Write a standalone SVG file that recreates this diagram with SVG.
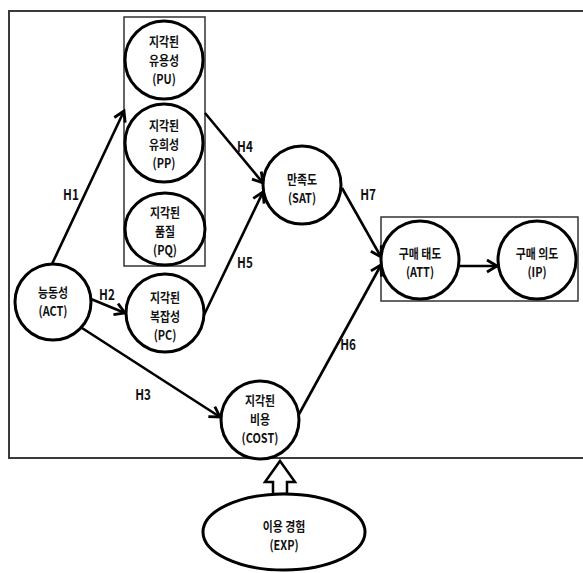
<svg xmlns="http://www.w3.org/2000/svg" width="583" height="573" viewBox="0 0 583 573">
  <style>
    .frame { fill: none; stroke: #3a3a3a; stroke-width: 2; }
    .box { fill: none; stroke: #333; stroke-width: 1.5; }
    .node { fill: #fff; stroke: #000; stroke-width: 3; }
    .edge { fill: none; stroke: #000; stroke-width: 2.6; marker-end: url(#head); }
    .lbl { font-family: "Noto Sans CJK KR", "Liberation Sans", sans-serif; font-weight: bold; font-size: 15px; fill: #111; text-anchor: middle; }
    .nl { font-family: "Noto Sans CJK KR", "Liberation Sans", sans-serif; font-weight: bold; font-size: 13px; fill: #111; text-anchor: middle; }
  </style>
  <defs>
    <marker id="head" markerUnits="userSpaceOnUse" markerWidth="14" markerHeight="14" refX="11" refY="6" orient="auto" overflow="visible">
      <path d="M1,0 L11,6 L1,12" fill="none" stroke="#000" stroke-width="2.8" stroke-linejoin="miter"/>
    </marker>
  </defs>

  <rect width="583" height="573" fill="#fff"/>

  <!-- outer model frame and construct groupings -->
  <rect class="frame" x="9" y="11" width="600" height="447"/>
  <rect class="box" x="124" y="17" width="81" height="249"/>
  <rect class="box" x="381" y="217" width="197" height="84"/>

  <!-- connectors -->
  <g id="connectors">
    <line class="edge" x1="52" y1="264" x2="124" y2="111"/>
    <line class="edge" x1="91" y1="299" x2="125" y2="313"/>
    <line class="edge" x1="82" y1="328" x2="220" y2="417"/>
    <line class="edge" x1="205" y1="113" x2="263" y2="183"/>
    <line class="edge" x1="204" y1="315" x2="263" y2="192"/>
    <line class="edge" x1="298" y1="416" x2="381" y2="265"/>
    <line class="edge" x1="342" y1="188" x2="381" y2="257"/>
    <line class="edge" x1="460" y1="266" x2="497" y2="266"/>
    <!-- moderating effect arrow -->
    <polygon points="280,461 295,482 287,482 287,494 273,494 273,482 265,482" fill="#fff" stroke="#000" stroke-width="2.5" stroke-linejoin="miter"/>
  </g>

  <!-- path labels -->
  <g id="path-labels" class="lbl">
    <text transform="matrix(0.78 0 0 1 15.6 0)" x="71" y="200">H1</text>
    <text transform="matrix(0.78 0 0 1 23.5 0)" x="107" y="300">H2</text>
    <text transform="matrix(0.78 0 0 1 31.5 0)" x="143" y="400">H3</text>
    <text transform="matrix(0.78 0 0 1 53.9 0)" x="245" y="152">H4</text>
    <text transform="matrix(0.78 0 0 1 53.9 0)" x="245" y="268">H5</text>
    <text transform="matrix(0.78 0 0 1 76.6 0)" x="348" y="350">H6</text>
    <text transform="matrix(0.78 0 0 1 81 0)" x="368" y="200">H7</text>
  </g>

  <g id="PU">
    <circle class="node" cx="164" cy="60" r="39"/>
    <g class="nl" transform="matrix(0.84 0 0 1 26.24 0)">
      <text x="164" y="46">지각된</text>
      <text x="164" y="65">유용성</text>
      <text x="164" y="84">(PU)</text>
    </g>
  </g>

  <g id="PP">
    <circle class="node" cx="164" cy="143" r="39"/>
    <g class="nl" transform="matrix(0.84 0 0 1 26.24 0)">
      <text x="164" y="130">지각된</text>
      <text x="164" y="149">유희성</text>
      <text x="164" y="168">(PP)</text>
    </g>
  </g>

  <g id="PQ">
    <ellipse class="node" cx="165" cy="229" rx="40" ry="36"/>
    <g class="nl" transform="matrix(0.84 0 0 1 26.4 0)">
      <text x="165" y="217">지각된</text>
      <text x="165" y="236">품질</text>
      <text x="165" y="255">(PQ)</text>
    </g>
  </g>

  <g id="ACT">
    <circle class="node" cx="53" cy="302" r="38"/>
    <g class="nl" transform="matrix(0.84 0 0 1 8.48 0)">
      <text x="53" y="297">능동성</text>
      <text x="53" y="316">(ACT)</text>
    </g>
  </g>

  <g id="PC">
    <circle class="node" cx="165" cy="313" r="39"/>
    <g class="nl" transform="matrix(0.84 0 0 1 26.4 0)">
      <text x="165" y="302">지각된</text>
      <text x="165" y="321">복잡성</text>
      <text x="165" y="340">(PC)</text>
    </g>
  </g>

  <g id="COST">
    <circle class="node" cx="260" cy="420" r="39"/>
    <g class="nl" transform="matrix(0.84 0 0 1 41.6 0)">
      <text x="260" y="405">지각된</text>
      <text x="260" y="424">비용</text>
      <text x="260" y="443">(COST)</text>
    </g>
  </g>

  <g id="SAT">
    <circle class="node" cx="302" cy="185" r="39"/>
    <g class="nl" transform="matrix(0.84 0 0 1 48.32 0)">
      <text x="302" y="184">만족도</text>
      <text x="302" y="203">(SAT)</text>
    </g>
  </g>

  <g id="ATT">
    <circle class="node" cx="420" cy="260" r="39"/>
    <g class="nl" transform="matrix(0.84 0 0 1 67.2 0)">
      <text x="420" y="258">구매 태도</text>
      <text x="420" y="277">(ATT)</text>
    </g>
  </g>

  <g id="IP">
    <circle class="node" cx="537" cy="260" r="39"/>
    <g class="nl" transform="matrix(0.84 0 0 1 85.92 0)">
      <text x="537" y="258">구매 의도</text>
      <text x="537" y="277">(IP)</text>
    </g>
  </g>

  <g id="EXP">
    <ellipse class="node" cx="284" cy="532" rx="81" ry="38"/>
    <g class="nl" transform="matrix(0.84 0 0 1 45.44 0)">
      <text x="284" y="531">이용 경험</text>
      <text x="284" y="550">(EXP)</text>
    </g>
  </g>
</svg>
